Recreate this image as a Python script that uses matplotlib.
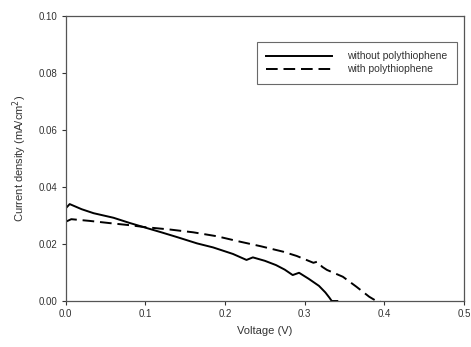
import matplotlib.pyplot as plt

# J-V data
v_without = [0.0, 0.005, 0.02, 0.035, 0.06, 0.08, 0.098, 0.12, 0.14, 0.165, 0.185,
             0.21, 0.227, 0.235, 0.25, 0.264, 0.275, 0.285, 0.293, 0.305, 0.318,
             0.326, 0.331, 0.334, 0.341]
j_without = [0.0325, 0.034, 0.0322, 0.0308, 0.0292, 0.0274, 0.0259, 0.0241, 0.0224,
             0.0202, 0.0188, 0.0165, 0.0144, 0.0153, 0.0141, 0.0126, 0.0110, 0.0091,
             0.0099, 0.0078, 0.0053, 0.0030, 0.0012, 0.0, 0.0]

v_with = [0.0, 0.007, 0.03, 0.056, 0.08, 0.1, 0.13, 0.16, 0.19, 0.219, 0.245, 0.273,
          0.29, 0.311, 0.316, 0.322, 0.328, 0.348, 0.365, 0.381, 0.39, 0.395]
j_with = [0.0278, 0.0287, 0.0281, 0.0273, 0.0266, 0.0259, 0.0251, 0.0241, 0.0227,
          0.0208, 0.0192, 0.0173, 0.0158, 0.0134, 0.0138, 0.0120, 0.0109, 0.0085,
          0.0050, 0.0015, 0.0, 0.0]

x_ticks = [0.0, 0.1, 0.2, 0.3, 0.4, 0.5]
y_ticks = [0.00, 0.02, 0.04, 0.06, 0.08, 0.10]

plt.rcParams['font.family'] = ['Liberation Sans', 'DejaVu Sans']

fig = plt.figure(figsize=(4.71, 3.47), dpi=100)
ax = fig.add_axes([0.1395, 0.1326, 0.8455, 0.8214])

ax.plot(v_without, j_without, color='black', lw=1.4, label='without polythiophene')
ax.plot(v_with, j_with, color='black', lw=1.4, dashes=(6, 3), label='with polythiophene')

ax.set_xlim(0, 0.5)
ax.set_ylim(0, 0.10)
ax.set_xticks(x_ticks)
ax.set_xticklabels([f"{t:.1f}" for t in x_ticks])
ax.set_yticks(y_ticks)
ax.set_yticklabels([f"{t:.2f}" for t in y_ticks])
ax.tick_params(direction='out', length=3, width=0.8, labelsize=7,
               colors='#333333', pad=3)

for s in ax.spines.values():
    s.set_color('#555555')
    s.set_linewidth(0.9)

ax.set_xlabel("Voltage (V)", fontsize=8, color='#333333', labelpad=5)
ax.set_ylabel("Current density (mA/cm$^2$)", fontsize=8, color='#333333', labelpad=7)

leg = ax.legend(loc='upper right', bbox_to_anchor=(0.982, 0.909), fontsize=7.5,
                frameon=True, fancybox=False, handlelength=6.3, handletextpad=1.5,
                borderpad=0.9, labelspacing=0.3, borderaxespad=0)
leg.get_frame().set_edgecolor('#444444')
leg.get_frame().set_linewidth(0.8)
for t in leg.get_texts():
    t.set_color('#333333')

fig.savefig("out.png", dpi=100)
